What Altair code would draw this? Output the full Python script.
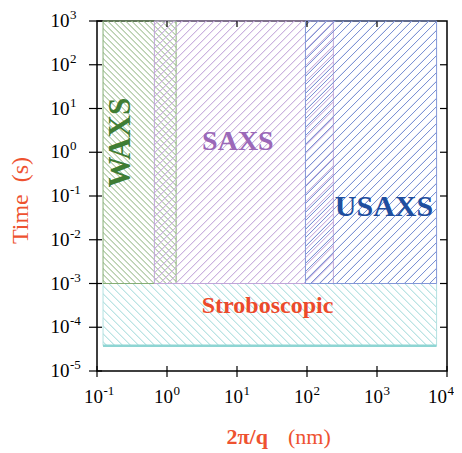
import math
import altair as alt
import pandas as pd

# ---------------- data ----------------
regions = ["WAXS", "SAXS", "USAXS", "Stroboscopic"]
q_start = [0.122, 0.66, 95.0, 0.122]
q_end = [1.35, 238.0, 7100.0, 7100.0]
t_start = [1e-3, 1e-3, 1e-3, 3.8e-5]
t_end = [1e3, 1e3, 1e3, 1e-3]

label_q = [0.22, 10.3, 1260.0, 27.3]
label_t = [1.66, 1.74, 0.0568, 3.0e-4]
label_angle = [270, 0, 0, 0]
label_size = [31, 28, 30, 24]

text_colors = ["#3f7d34", "#9b68b8", "#1f4e9f", "#ec4a2b"]
hatch_colors = ["#8cb27c", "#c0a3d8", "#7c92d4", "#9fd9d9"]
edge_colors = ["#86ae76", "#c0a5d9", "#8397d8", "#b3e1e1"]
hatch_dir = ["back", "fwd", "fwd", "back"]
hatch_period = [6.0, 8.0, 8.5, 8.0]

q_ticks = [0.1, 1, 10, 100, 1000, 10000]
q_exp = ["-1", "0", "1", "2", "3", "4"]
t_ticks = [1e-5, 1e-4, 1e-3, 1e-2, 1e-1, 1, 10, 100, 1000]
t_exp = ["-5", "-4", "-3", "-2", "-1", "0", "1", "2", "3"]
tick_base = "10"

x_title_text = ["2π/q", "(nm)"]
x_title_q = [27.7, 53.5]
y_title = ["Time\u00a0\u00a0(s)"]

axis_color = "#ee5230"
FONT = "Liberation Serif"

W, H = 350, 350
Q_DOM = [0.1, 10000]
T_DOM = [1e-5, 1e3]


def px(q):
    return W * (math.log10(q) - math.log10(Q_DOM[0])) / (math.log10(Q_DOM[1]) - math.log10(Q_DOM[0]))


def py(t):
    return H * (math.log10(T_DOM[1]) - math.log10(t)) / (math.log10(T_DOM[1]) - math.log10(T_DOM[0]))


def hatch(i):
    w = px(q_end[i]) - px(q_start[i])
    h = py(t_start[i]) - py(t_end[i])
    k = (w + h) / (w * w + h * h)
    total = w + h
    p = hatch_period[i]
    col = hatch_colors[i]
    clear = "rgba(255,255,255,0)"
    stops = [alt.GradientStop(offset=0, color=clear)]
    s = p / 2
    while s + 1.2 < total:
        for d, c in [(-1.0, clear), (-0.3, col), (0.3, col), (1.0, clear)]:
            stops.append(alt.GradientStop(offset=round((s + d) / total, 5), color=c))
        s += p
    stops.append(alt.GradientStop(offset=1, color=clear))
    if hatch_dir[i] == "fwd":
        return alt.LinearGradient(gradient="linear", stops=stops,
                                  x1=0, y1=0, x2=w * k, y2=h * k)
    return alt.LinearGradient(gradient="linear", stops=stops,
                              x1=0, y1=1, x2=w * k, y2=1 - h * k)


xscale = alt.Scale(type="log", domain=Q_DOM, nice=False)
yscale = alt.Scale(type="log", domain=T_DOM, nice=False)


def X(field):
    return alt.X(field, type="quantitative", scale=xscale, axis=None)


def Y(field):
    return alt.Y(field, type="quantitative", scale=yscale, axis=None)


df = pd.DataFrame({
    "region": regions, "q0": q_start, "q1": q_end, "t0": t_start, "t1": t_end,
    "lq": label_q, "lt": label_t, "angle": label_angle, "size": label_size,
    "color": text_colors,
})

layers = []
for i in [3, 0, 1, 2]:
    sub = df.iloc[[i]]
    layers.append(
        alt.Chart(sub).mark_rect(fill=hatch(i), stroke=edge_colors[i], strokeWidth=1)
        .encode(x=X("q0"), x2="q1", y=Y("t0"), y2="t1")
    )

strobe = df.iloc[[3]]
bottom_line = alt.Chart(strobe).mark_rule(color="#8ed5d3", strokeWidth=2.5).encode(
    x=X("q0"), x2="q1", y=Y("t0"))

qt = pd.DataFrame({"q": q_ticks, "base": tick_base, "exp": q_exp})
tt = pd.DataFrame({"t": t_ticks, "base": tick_base, "exp": t_exp})

bottom_ticks = alt.Chart(qt).mark_tick(color="black", thickness=1.2, size=11,
                                       opacity=1).encode(
    x=X("q"), y=alt.value(H + 0.5))
left_ticks = alt.Chart(tt).mark_tick(color="black", thickness=1.2, size=13,
                                     opacity=1).encode(
    y=Y("t"), x=alt.value(-1.5))
top_ticks = alt.Chart(qt.iloc[1:-1]).mark_rule(color="black", strokeWidth=1.2).encode(
    x=X("q"), y=alt.value(0), y2=alt.value(6))
right_ticks = alt.Chart(tt.iloc[1:-1]).mark_rule(color="black", strokeWidth=1.2).encode(
    y=Y("t"), x=alt.value(W - 7), x2=alt.value(W))

lab = dict(font=FONT, color="black", baseline="middle")
left_base = alt.Chart(tt).mark_text(fontSize=19, align="right", **lab).encode(
    y=Y("t"), x=alt.value(-27.5), text="base:N")
left_exp = alt.Chart(tt).mark_text(fontSize=13, align="left", dy=-6, **lab).encode(
    y=Y("t"), x=alt.value(-27), text="exp:N")
bot_base = alt.Chart(qt).transform_filter("datum.q < 10000").mark_text(
    fontSize=19, align="right", dx=6, **lab).encode(
    x=X("q"), y=alt.value(H + 26), text="base:N")
bot_exp = alt.Chart(qt).transform_filter("datum.q < 10000").mark_text(
    fontSize=13, align="left", dx=6.5, dy=-6, **lab).encode(
    x=X("q"), y=alt.value(H + 26), text="exp:N")
last_base = alt.Chart(qt).transform_filter("datum.q >= 10000").mark_text(
    fontSize=19, align="right", dx=0, **lab).encode(
    x=X("q"), y=alt.value(H + 26), text="base:N")
last_exp = alt.Chart(qt).transform_filter("datum.q >= 10000").mark_text(
    fontSize=13, align="left", dx=0.5, dy=-6, **lab).encode(
    x=X("q"), y=alt.value(H + 26), text="exp:N")

labels = alt.Chart(df).mark_text(font=FONT, fontWeight="bold", align="center",
                                 baseline="middle").encode(
    x=X("lq"), y=Y("lt"),
    text="region:N",
    color=alt.Color("color:N", scale=None),
    angle=alt.Angle("angle:Q", scale=None),
    size=alt.Size("size:Q", scale=None),
)

xt = pd.DataFrame({"text": x_title_text, "q": x_title_q})
xtitle_bold = alt.Chart(xt.iloc[[0]]).mark_text(
    font=FONT, fontWeight="bold", fontSize=22, color=axis_color, align="right",
    baseline="alphabetic").encode(x=X("q"), y=alt.value(423), text="text:N")
xtitle_norm = alt.Chart(xt.iloc[[1]]).mark_text(
    font=FONT, fontWeight="normal", fontSize=22, color=axis_color, align="left",
    baseline="alphabetic").encode(x=X("q"), y=alt.value(423), text="text:N")

ytitle = alt.Chart(pd.DataFrame({"text": y_title})).mark_text(
    font=FONT, fontSize=24, color=axis_color, angle=270, align="center",
    baseline="middle").encode(x=alt.value(-76.5), y=alt.value(179.5), text="text:N")

chart = alt.layer(*layers, bottom_line, bottom_ticks, left_ticks, top_ticks,
                  right_ticks, left_base, left_exp, bot_base, bot_exp, last_base,
                  last_exp, labels, xtitle_bold, xtitle_norm, ytitle).properties(
    width=W, height=H,
    background="white",
    autosize=alt.AutoSizeParams(type="none"),
    padding={"left": 89, "top": 13, "right": 7, "bottom": 80},
).configure_view(stroke="black", strokeWidth=1.5)

chart.save("out.html", embed_options={"renderer": "svg", "actions": False})
